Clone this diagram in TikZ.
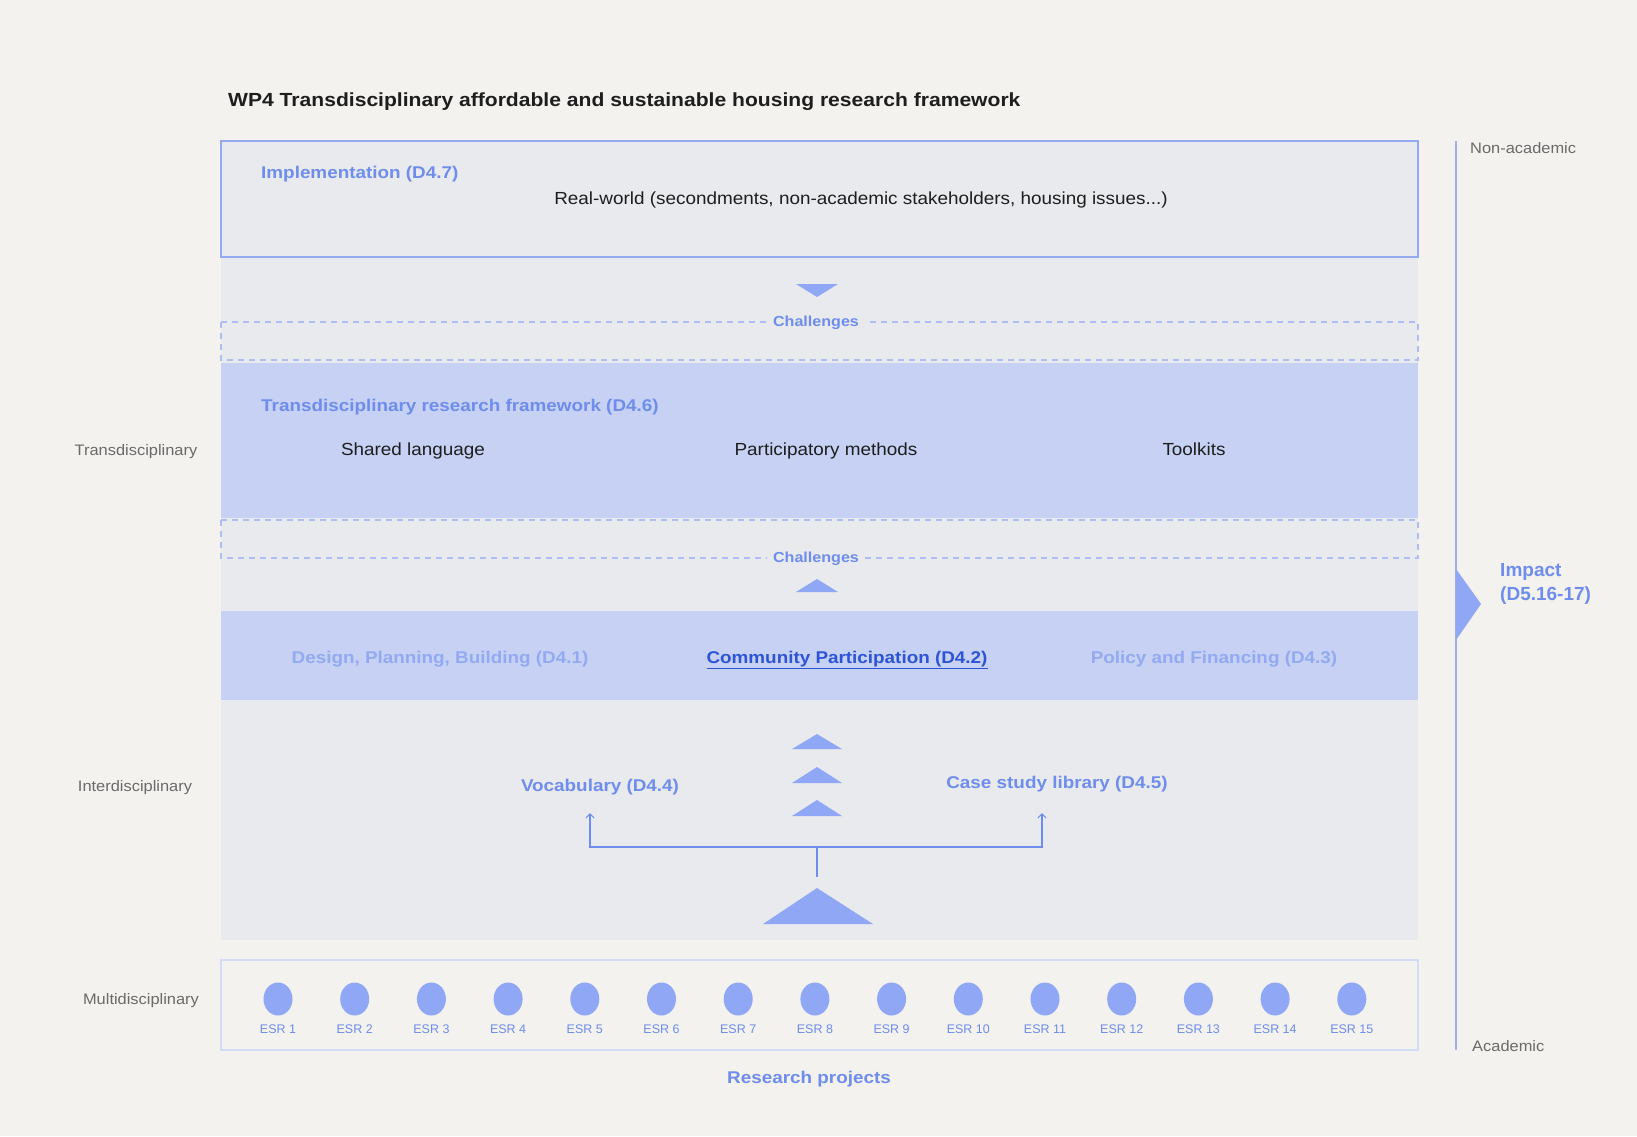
\documentclass[tikz,border=0pt]{standalone}
\usepackage{fontspec}
\setmainfont{Liberation Sans}
\newfontfamily\rff{Liberation Sans}[FakeStretch=1.08]
\newfontfamily\bff{Liberation Sans}[FakeStretch=1.11]
\usetikzlibrary{arrows.meta}
\definecolor{bgc}{HTML}{F3F2EE}
\definecolor{panelc}{HTML}{E9EAEE}
\definecolor{bandc}{HTML}{C6D1F3}
\definecolor{topbc}{HTML}{93A9F2}
\definecolor{dashc}{HTML}{AEBDF2}
\definecolor{esrbc}{HTML}{D3DCF6}
\definecolor{accc}{HTML}{6E8DEC}
\definecolor{tric}{HTML}{8FA7F5}
\definecolor{lightc}{HTML}{93AAF1}
\definecolor{commc}{HTML}{2E54D6}
\definecolor{grayc}{HTML}{6A6A6A}
\definecolor{darkc}{HTML}{1E1E1E}
\definecolor{vlinec}{HTML}{9DB1F2}
\tikzset{
  acclabel/.style={text=accc, font=\fontsize{17}{20}\selectfont\bff\bfseries, inner sep=0pt},
  bodytxt/.style={text=darkc, font=\fontsize{17.5}{20}\selectfont\rff, inner sep=0pt},
  sidelabel/.style={text=grayc, font=\fontsize{15.2}{18}\selectfont\rff, inner sep=0pt},
  challabel/.style={text=accc, font=\fontsize{14.5}{17}\selectfont\bff\bfseries, fill=panelc, inner xsep=6pt, inner ysep=3pt},
  esrlabel/.style={text=accc, font=\fontsize{12.5}{15}\selectfont, inner sep=0pt},
  tri/.style={fill=tric, draw=none},
  conn/.style={draw=accc, line width=1.2pt},
}
\begin{document}
\begin{tikzpicture}[x=1pt,y=-1pt]
\useasboundingbox (0,0) rectangle (1637,1136);
\fill[bgc] (0,0) rectangle (1637,1136);
% title
\node[anchor=base west, text=darkc, font=\fontsize{19}{22}\selectfont\bff\bfseries, inner sep=0pt] (title) at (228,106) {WP4 Transdisciplinary affordable and sustainable housing research framework};
% panel and bands
\fill[panelc] (221,257) rectangle (1418,940);
\fill[bandc] (221,363) rectangle (1418,518);
\fill[bandc] (221,611) rectangle (1418,700);
\draw[topbc, line width=2pt, fill=panelc] (221,141) rectangle (1418,257);
\draw[dashc, line width=1.2pt, dash pattern=on 6pt off 5pt] (221,322) rectangle (1418,360);
\draw[dashc, line width=1.2pt, dash pattern=on 6pt off 5pt] (221,520) rectangle (1418,558);
\draw[esrbc, line width=2pt] (221,960) rectangle (1418,1050);
% texts in boxes
\node[acclabel, anchor=base west] (impl) at (261,178) {Implementation (D4.7)};
\node[bodytxt, anchor=base] (real) at (861,204.5) {Real-world (secondments, non-academic stakeholders, housing issues...)};
\node[challabel, anchor=base] (ch1) at (816,326) {Challenges};
\node[acclabel, anchor=base west] (tfw) at (261,411) {Transdisciplinary research framework (D4.6)};
\node[bodytxt, anchor=base] (shared) at (413,455) {Shared language};
\node[bodytxt, anchor=base] (partm) at (826,455) {Participatory methods};
\node[bodytxt, anchor=base] (tool) at (1194,455) {Toolkits};
\node[challabel, anchor=base] (ch2) at (816,562) {Challenges};
\node[acclabel, anchor=base, text=lightc] (d41) at (440,663) {Design, Planning, Building (D4.1)};
\node[acclabel, anchor=base, text=commc] (d42) at (847,663) {\underline{Community Participation (D4.2)}};
\node[acclabel, anchor=base, text=lightc] (d43) at (1214,663) {Policy and Financing (D4.3)};
\node[acclabel, anchor=base] (voc) at (600,791) {Vocabulary (D4.4)};
\node[acclabel, anchor=base] (csl) at (1057,788) {Case study library (D4.5)};
% triangles
\fill[tri] (796,284) -- (838,284) -- (817,297) -- cycle;
\fill[tri] (796,592) -- (838,592) -- (817,579) -- cycle;
\fill[tri] (792,749) -- (842,749) -- (817,734) -- cycle;
\fill[tri] (792,783) -- (842,783) -- (817,767) -- cycle;
\fill[tri] (792,816) -- (842,816) -- (817,800) -- cycle;
\fill[tri] (763,924) -- (873,924) -- (817,888) -- cycle;
% connector
\coordinate (stemb) at (817,877);
\coordinate (split) at (817,847);
\coordinate (vocin) at (590,813);
\coordinate (cslin) at (1042,813);
\draw[conn] (stemb) -- (split);
\draw[conn, -{Straight Barb[length=4pt,width=8pt]}] (split) -| (vocin);
\draw[conn, -{Straight Barb[length=4pt,width=8pt]}] (split) -| (cslin);
% side labels
\node[sidelabel, anchor=base] (ltd) at (136,455) {Transdisciplinary};
\node[sidelabel, anchor=base] (lid) at (135,791) {Interdisciplinary};
\node[sidelabel, anchor=base] (lmd) at (141,1004) {Multidisciplinary};
% right axis
\coordinate (vtop) at (1456,141);
\coordinate (vbot) at (1456,1050);
\draw[vlinec, line width=1.5pt] (vtop) -- (vbot);
\fill[tri] (1456,569) -- (1481,604) -- (1456,640) -- cycle;
\node[sidelabel, anchor=base west] (nonac) at (1470,153) {Non-academic};
\node[sidelabel, anchor=base west] (acad) at (1472,1051) {Academic};
\node[acclabel, anchor=base west, font=\fontsize{19}{24}\selectfont\bfseries, align=left] (impact) at (1500,600) {Impact\\(D5.16-17)};
% ESR
\foreach \i in {1,...,15} {
  \fill[tric] ({278+76.7*(\i-1)},999) ellipse [x radius=14.5, y radius=16.5];
  \node[esrlabel, anchor=base] (esr\i) at ({278+76.7*(\i-1)},1033) {ESR \i};
}
\node[acclabel, anchor=base] (rp) at (809,1083) {Research projects};
\end{tikzpicture}
\end{document}
